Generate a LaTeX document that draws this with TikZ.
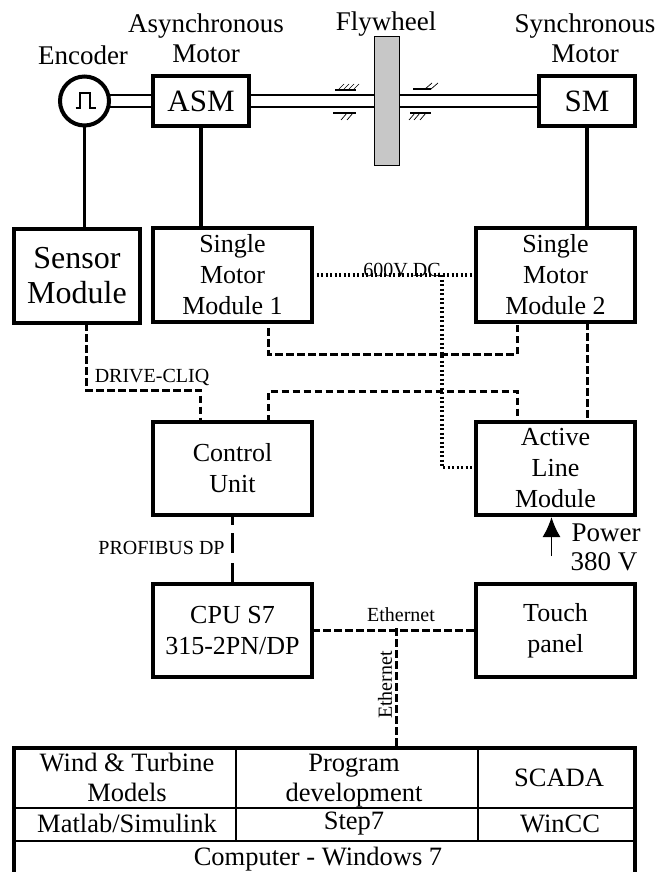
\documentclass[tikz,border=0pt]{standalone}
\usepackage{fontspec}
\setmainfont{Liberation Serif}
\usetikzlibrary{arrows.meta}

\tikzset{
    mainbox/.style={draw, line width=4pt, inner sep=0pt, outer sep=0pt, align=center, font=\fontsize{26}{31}\selectfont},
    plainlabel/.style={inner sep=0pt, align=center, font=\fontsize{27}{30}\selectfont},
    smalllabel/.style={inner sep=0pt, font=\fontsize{20}{22}\selectfont},
    celltext/.style={inner sep=0pt, align=center, font=\fontsize{26.5}{30}\selectfont},
    shaftline/.style={line width=2.2pt},
    bearingline/.style={line width=2.6pt},
    hatchline/.style={line width=0.7pt},
    wireline/.style={line width=3.4pt},
    cliqline/.style={line width=3pt, dash pattern=on 7.5pt off 3.5pt},
    dcline/.style={line width=3.2pt, dash pattern=on 2.4pt off 2.1pt}
}

\begin{document}
\begin{tikzpicture}[x=1pt,y=-1pt]
    \useasboundingbox (0,0) rectangle (655,872);

    % Drive train
    \node[draw, circle, line width=4pt, minimum size=49pt, inner sep=0pt, outer sep=0pt] (encoder) at (84.5,101) {};
    \node[mainbox, minimum width=96pt, minimum height=50pt, font=\fontsize{31}{31}\selectfont] (asm) at (201,101) {ASM};
    \node[mainbox, minimum width=96pt, minimum height=50pt, font=\fontsize{31}{31}\selectfont] (sm) at (587,101) {SM};
    \node[draw, fill=black!22, line width=1.2pt, minimum width=25pt, minimum height=129pt, inner sep=0pt, outer sep=0pt] (flywheel) at (387,101) {};

    % Pulse symbol in the encoder
    \draw[line width=1.1pt] (75.5,108) -- (80,108) -- (80,93) -- (90,93) -- (90,108) -- (96,108);

    % Labels of the drive train
    \node[plainlabel] (encoderlabel) at (83,55) {Encoder};
    \node[plainlabel] (asmlabel) at (206,38) {Asynchronous\\Motor};
    \node[plainlabel] (flywheellabel) at (386,24) {Flywheel};
    \node[plainlabel] (smlabel) at (585,38) {Synchronous\\Motor};

    % Shafts
    \foreach \offset in {6,-6} {
        \draw[shaftline] ([yshift=\offset pt]encoder.east) -- ([yshift=\offset pt]asm.west);
        \draw[shaftline] ([yshift=\offset pt]asm.east) -- ([yshift=\offset pt]flywheel.west);
        \draw[shaftline] ([yshift=\offset pt]flywheel.east) -- ([yshift=\offset pt]sm.west);
    }

    % Bearings
    \draw[bearingline] (335,90) -- (356,90);
    \draw[bearingline] (333,113) -- (356,113);
    \draw[bearingline] (413,89) -- (431,89);
    \draw[bearingline] (410,113) -- (431,113);
    \foreach \hx in {338,343,348,353} \draw[hatchline] (\hx,90) -- (\hx+6,84);
    \foreach \hx in {347,353} \draw[hatchline] (\hx,113) -- (\hx-6,120);
    \foreach \hx in {425,431} \draw[hatchline] (\hx,89) -- (\hx+7,83);
    \foreach \hx in {415,420,426} \draw[hatchline] (\hx,113) -- (\hx-6,120);

    % Converter modules
    \node[mainbox, minimum width=126pt, minimum height=94pt, font=\fontsize{32}{35}\selectfont] (sensor) at (77,276) {Sensor\\Module};
    \node[mainbox, minimum width=159pt, minimum height=94pt] (smmone) at (232.5,275) {Single\\Motor\\Module 1};
    \node[mainbox, minimum width=159pt, minimum height=94pt] (smmtwo) at (555.5,275) {Single\\Motor\\Module 2};
    \node[mainbox, minimum width=159pt, minimum height=93pt] (control) at (232.5,468.5) {Control\\Unit};
    \node[mainbox, minimum width=159pt, minimum height=93pt] (active) at (555.5,468.5) {Active\\Line\\Module};
    \node[mainbox, minimum width=159pt, minimum height=93pt] (cpu) at (232.5,630.5) {CPU S7\\315-2PN/DP};
    \node[mainbox, minimum width=159pt, minimum height=93pt] (touch) at (555.5,630.5) {Touch\\panel};

    % Motor cables
    \draw[wireline] (encoder.south) -- (encoder.south |- sensor.north);
    \draw[wireline] (asm.south) -- (asm.south |- smmone.north);
    \draw[wireline] (sm.south) -- (sm.south |- smmtwo.north);

    % DRIVE-CLIQ
    \draw[cliqline] ([xshift=9pt]sensor.south) |- (200.5,390) -- ([xshift=-32pt]control.north);
    \draw[cliqline] ([xshift=35.5pt,yshift=-6pt]smmone.south) |- (517,354) -- ([xshift=-38.5pt]smmtwo.south);
    \draw[cliqline] ([xshift=36pt]control.north) |- (517,391) -- ([xshift=-38.5pt]active.north);
    \draw[cliqline] ([xshift=31.5pt]smmtwo.south) -- ([xshift=31.5pt]active.north);
    \node[smalllabel] (cliqlabel) at (152,377) {DRIVE-CLIQ};

    % DC link
    \draw[dcline] (smmone.east) -- (smmtwo.west);
    \coordinate (dcjoint) at (442,275);
    \draw[dcline] (dcjoint) |- ([yshift=1pt]active.west);
    \node[smalllabel] (dclabel) at (402,270) {600V DC};

    % Fieldbus
    \draw[line width=3pt, dash pattern=on 10pt off 8pt on 20pt off 10pt on 20pt] (control.south) -- (cpu.north);
    \node[smalllabel] (profibuslabel) at (161.5,548) {PROFIBUS DP};

    % Power supply
    \coordinate (powerfoot) at (551.5,556);
    \draw[line width=1.8pt, -{Latex[length=20pt,width=18pt]}, shorten >=2pt] (powerfoot) -- (powerfoot |- active.south);
    \node[plainlabel] (powerlabel) at (606,533) {Power};
    \node[plainlabel] (voltlabel) at (604,562) {380 V};

    % Computer
    \draw[line width=4pt] (14,872) -- (14,748) -- (635,748) -- (635,872);
    \draw[line width=2.2pt] (14,808) -- (635,808);
    \draw[line width=2.2pt] (14,841) -- (635,841);
    \draw[line width=1.1pt] (236,748) -- (236,841);
    \draw[line width=1.1pt] (478,748) -- (478,841);
    \node[celltext] (windcell) at (127,777) {Wind \& Turbine\\Models};
    \node[celltext] (programcell) at (354,781) {Program\\development};
    \node[celltext] (scadacell) at (559,778) {SCADA};
    \node[celltext] (matlabcell) at (127,823) {Matlab/Simulink};
    \node[celltext] (stepcell) at (354,824) {Step7};
    \node[celltext] (winccell) at (560,824) {WinCC};
    \node[celltext] (windowscell) at (318,859) {Computer - Windows 7};
    \coordinate (pcport) at (396,746);

    % Ethernet
    \draw[cliqline] (cpu.east) -- (touch.west);
    \coordinate (ethjoint) at (396,628);
    \draw[cliqline] (ethjoint) -- (pcport);
    \node[smalllabel] (ethlabel) at (401,615) {Ethernet};
    \node[smalllabel, rotate=90] (ethlabeltwo) at (385,685) {Ethernet};
\end{tikzpicture}
\end{document}
